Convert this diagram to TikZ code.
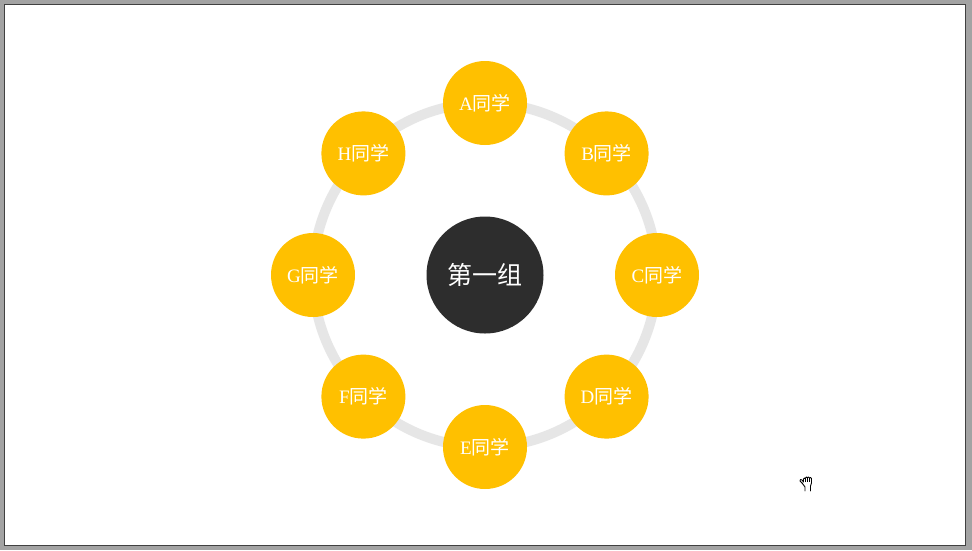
\documentclass[tikz,border=0pt]{standalone}
\usepackage{fontspec}
\setmainfont{Liberation Serif}
\newfontfamily\cjk{Noto Sans CJK SC}
\definecolor{frameg}{HTML}{A3A3A3}
\definecolor{framed}{HTML}{404040}
\definecolor{ringg}{HTML}{E6E6E6}
\definecolor{gold}{HTML}{FFC000}
\definecolor{hubc}{HTML}{2D2D2D}
\tikzset{
  member/.style={circle, fill=gold, draw=none, minimum size=84pt, inner sep=0pt, text=white, font=\fontsize{19pt}{19pt}\selectfont},
  hub/.style={circle, fill=hubc, draw=none, minimum size=117pt, inner sep=0pt, text=white, font=\cjk\fontsize{25pt}{25pt}\selectfont},
  ring/.style={draw=ringg, line width=10pt},
}
\begin{document}
\begin{tikzpicture}[x=1pt,y=-1pt]
\useasboundingbox (0,0) rectangle (972,550);
\fill[frameg] (0,0) rectangle (972,550);
\fill[white] (4,4) rectangle (965,545);
\draw[framed, line width=1pt] (4,545) -- (4,4) -- (965,4);
\draw[framed, line width=1pt] (4,545.5) -- (965.5,545.5) -- (965.5,4);
\coordinate (ctr) at (485,275);
\draw[ring] (ctr) circle[radius=172pt];
\node[hub] (hub) at (ctr) {第一组};
\node[member] (A) at (485,103) {A{\cjk 同学}};
\node[member] (B) at (606.6,153.4) {B{\cjk 同学}};
\node[member] (C) at (657,275) {C{\cjk 同学}};
\node[member] (D) at (606.6,396.6) {D{\cjk 同学}};
\node[member] (E) at (485,447) {E{\cjk 同学}};
\node[member] (F) at (363.4,396.6) {F{\cjk 同学}};
\node[member] (G) at (313,275) {G{\cjk 同学}};
\node[member] (H) at (363.4,153.4) {H{\cjk 同学}};
% hand cursor
\draw[black, line width=0.9pt, line join=round, line cap=round]
  (802,483) -- (800,481) -- (800.5,479.5) -- (802,480) -- (803.5,482)
  -- (803.5,479) -- (804.5,478) -- (805.5,479) -- (805.5,478) -- (806.5,477) -- (807.5,478)
  -- (807.5,477.5) -- (808.5,477) -- (809.5,478) -- (810.5,477.5) -- (811.5,478.5)
  -- (811.5,483) -- (810.5,486) -- (810.5,491);
\draw[black, line width=0.9pt, line cap=round]
  (802,483) -- (805,487) -- (805,491);
\draw[black, line width=0.6pt] (805.5,479) -- (805.5,482) (807.5,478) -- (807.5,482) (809.5,478) -- (809.5,482);
\end{tikzpicture}
\end{document}
